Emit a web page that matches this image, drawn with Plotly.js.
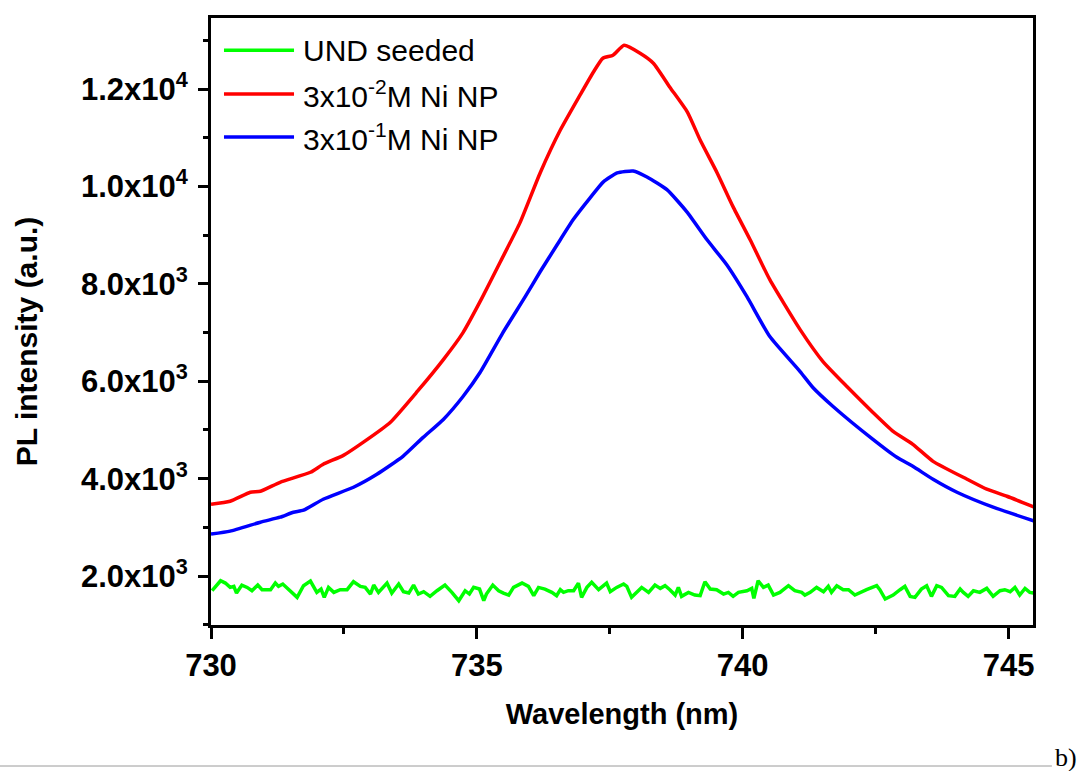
<!DOCTYPE html>
<html>
<head>
<meta charset="utf-8">
<script src="https://cdn.plot.ly/plotly-3.0.1.min.js"></script>
<style>html,body{margin:0;padding:0;background:#fff;}#chart{width:1083px;height:771px;}</style>
</head>
<body>
<div id="chart"></div>
<script>
// Wavelength (nm) / PL intensity (a.u.)
const redX = [730.0, 730.36, 730.74, 730.93, 731.30, 731.87, 732.11, 732.49, 732.86, 733.37, 733.88, 734.37, 734.74, 735.10, 735.44, 735.81, 736.19, 736.57, 736.94, 737.19, 737.37, 737.56, 737.77, 738.07, 738.32, 738.63, 738.96, 739.20, 739.52, 739.82, 740.14, 740.51, 741.08, 741.51, 741.96, 742.45, 742.83, 743.20, 743.58, 744.22, 744.59, 744.97, 745.49];
const redY = [3475, 3537, 3721, 3742, 3926, 4131, 4295, 4479, 4746, 5155, 5791, 6446, 7000, 7717, 8450, 9253, 10278, 11159, 11876, 12347, 12634, 12696, 12900, 12737, 12532, 12040, 11528, 10954, 10278, 9581, 8905, 8086, 7061, 6405, 5893, 5360, 4971, 4705, 4356, 3988, 3783, 3639, 3414];

const blueX = [730.0, 730.36, 730.93, 731.30, 731.55, 731.74, 732.11, 732.68, 733.12, 733.61, 733.99, 734.37, 734.74, 735.06, 735.48, 735.91, 736.19, 736.51, 736.81, 737.13, 737.38, 737.64, 737.94, 738.20, 738.58, 738.95, 739.33, 739.70, 740.08, 740.51, 741.08, 741.32, 741.70, 742.45, 742.90, 743.20, 743.58, 744.03, 744.71, 745.49];
const blueY = [2861, 2922, 3106, 3209, 3311, 3352, 3578, 3824, 4090, 4459, 4848, 5217, 5688, 6180, 6980, 7737, 8249, 8803, 9315, 9766, 10094, 10278, 10319, 10196, 9930, 9479, 8905, 8393, 7737, 6918, 6200, 5873, 5483, 4807, 4438, 4254, 3988, 3721, 3414, 3127];

const greenX = [730.02, 730.18, 730.27, 730.36, 730.43, 730.48, 730.58, 730.68, 730.77, 730.88, 730.96, 731.12, 731.21, 731.27, 731.35, 731.48, 731.62, 731.74, 731.87, 731.99, 732.07, 732.13, 732.21, 732.31, 732.43, 732.56, 732.68, 732.81, 732.90, 733.00, 733.06, 733.15, 733.31, 733.40, 733.53, 733.62, 733.72, 733.81, 733.90, 734.00, 734.12, 734.25, 734.40, 734.53, 734.66, 734.78, 734.86, 734.94, 735.05, 735.13, 735.18, 735.30, 735.41, 735.50, 735.60, 735.69, 735.85, 735.97, 736.07, 736.16, 736.28, 736.41, 736.50, 736.57, 736.63, 736.72, 736.82, 736.91, 736.97, 737.07, 737.16, 737.29, 737.44, 737.51, 737.63, 737.76, 737.82, 737.91, 738.01, 738.10, 738.23, 738.35, 738.45, 738.54, 738.63, 738.73, 738.79, 738.85, 738.98, 739.10, 739.20, 739.29, 739.39, 739.51, 739.64, 739.73, 739.82, 739.92, 740.08, 740.17, 740.21, 740.29, 740.39, 740.48, 740.58, 740.70, 740.86, 740.98, 741.11, 741.17, 741.27, 741.39, 741.52, 741.61, 741.67, 741.77, 741.89, 741.99, 742.11, 742.21, 742.33, 742.52, 742.58, 742.68, 742.83, 742.96, 743.05, 743.15, 743.24, 743.36, 743.46, 743.55, 743.65, 743.74, 743.87, 743.99, 744.09, 744.15, 744.24, 744.34, 744.46, 744.59, 744.71, 744.84, 744.93, 745.03, 745.12, 745.21, 745.31, 745.40, 745.48];
const greenY = [1699, 1904, 1856, 1767, 1788, 1651, 1815, 1767, 1699, 1815, 1720, 1720, 1856, 1788, 1836, 1699, 1563, 1802, 1897, 1665, 1733, 1563, 1767, 1665, 1720, 1720, 1884, 1788, 1767, 1631, 1815, 1665, 1856, 1651, 1836, 1679, 1651, 1815, 1631, 1679, 1583, 1699, 1815, 1665, 1494, 1699, 1631, 1767, 1733, 1494, 1631, 1815, 1699, 1651, 1610, 1767, 1856, 1788, 1597, 1767, 1733, 1665, 1597, 1720, 1665, 1699, 1699, 1856, 1563, 1767, 1870, 1720, 1856, 1679, 1767, 1836, 1788, 1563, 1665, 1767, 1665, 1815, 1747, 1802, 1720, 1610, 1767, 1583, 1665, 1610, 1597, 1884, 1733, 1720, 1631, 1665, 1583, 1665, 1699, 1747, 1542, 1904, 1767, 1815, 1610, 1665, 1802, 1699, 1665, 1610, 1665, 1767, 1679, 1788, 1665, 1802, 1720, 1720, 1610, 1665, 1720, 1802, 1720, 1528, 1610, 1720, 1788, 1583, 1563, 1733, 1802, 1583, 1802, 1767, 1597, 1583, 1733, 1665, 1583, 1699, 1665, 1747, 1583, 1699, 1720, 1679, 1767, 1610, 1747, 1665, 1651];

const seriesNames = ['UND seeded', '3x10<sup>-2</sup>M Ni NP', '3x10<sup>-1</sup>M Ni NP'];
const seriesColors = ['#00ff00', '#ff0000', '#0000ff'];

const yTickVals = [2000, 4000, 6000, 8000, 10000, 12000];
const yTickText = ['2.0x10<sup>3</sup>', '4.0x10<sup>3</sup>', '6.0x10<sup>3</sup>', '8.0x10<sup>3</sup>', '1.0x10<sup>4</sup>', '1.2x10<sup>4</sup>'];
const yMinorVals = [1000, 3000, 5000, 7000, 9000, 11000, 13000];
const xTickVals = [730, 735, 740, 745];
const xMinorVals = [732.5, 737.5, 742.5];

const traces = [
  {x: greenX, y: greenY, name: seriesNames[0], line: {color: seriesColors[0], width: 3.5}},
  {x: redX, y: redY, name: seriesNames[1], line: {color: seriesColors[1], width: 3.5, shape: 'spline', smoothing: 0.5}},
  {x: blueX, y: blueY, name: seriesNames[2], line: {color: seriesColors[2], width: 3.5, shape: 'spline', smoothing: 0.5}}
].map(t => Object.assign({type: 'scatter', mode: 'lines', showlegend: false, hoverinfo: 'skip'}, t));

const tickFont = {family: 'Liberation Sans, Arial, sans-serif', size: 31, color: '#000', weight: 'bold'};
const titleFont = {family: 'Liberation Sans, Arial, sans-serif', size: 29, color: '#000', weight: 'bold'};

// manual legend (line samples + labels)
const legRows = [0.947, 0.875, 0.804];
const shapes = legRows.map((yy, i) => ({type: 'line', xref: 'paper', yref: 'paper', x0: 0.0158, x1: 0.101, y0: yy, y1: yy, line: {color: seriesColors[i], width: 3.5}}));
shapes.push({type: 'line', xref: 'paper', yref: 'paper', x0: -0.2567, x1: 1.023, y0: -0.2323, y1: -0.2323, line: {color: '#9a9a9a', width: 1}});
const annotations = legRows.map((yy, i) => ({xref: 'paper', yref: 'paper', x: 0.1095, y: yy, xanchor: 'left', yanchor: 'middle', text: seriesNames[i], showarrow: false, font: {family: 'Liberation Sans, Arial, sans-serif', size: 30, color: '#000'}}));
annotations.push({xref: 'paper', yref: 'paper', x: 1.04, y: -0.2175, xanchor: 'center', yanchor: 'middle', text: 'b)', showarrow: false, font: {family: 'Liberation Serif, Times New Roman, serif', size: 26, color: '#000'}});
// y-axis title (placed as in the original figure, slightly below the axis centre)
annotations.push({xref: 'paper', yref: 'paper', x: -0.225, y: 0.466, xanchor: 'center', yanchor: 'middle', textangle: -90, text: 'PL intensity (a.u.)', showarrow: false, font: {family: 'Liberation Sans, Arial, sans-serif', size: 30, color: '#000', weight: 'bold'}});

const layout = {
  width: 1083, height: 771,
  margin: {l: 211, r: 50, t: 18, b: 146, pad: 0},
  paper_bgcolor: '#fff', plot_bgcolor: '#fff',
  showlegend: false,
  xaxis: {
    range: [730, 745.46], showgrid: false, zeroline: false,
    showline: true, mirror: true, linecolor: '#000', linewidth: 3,
    tickmode: 'array', tickvals: xTickVals, ticktext: xTickVals.map(String),
    ticks: 'outside', ticklen: 11, tickwidth: 3, tickcolor: '#000',
    minor: {tickmode: 'array', tickvals: xMinorVals, ticks: 'outside', ticklen: 6, tickwidth: 3, tickcolor: '#000'},
    tickfont: tickFont, ticklabelstandoff: 0,
    title: {text: 'Wavelength (nm)', font: titleFont, standoff: 22}
  },
  yaxis: {
    range: [995, 13460], showgrid: false, zeroline: false,
    showline: true, mirror: true, linecolor: '#000', linewidth: 3,
    tickmode: 'array', tickvals: yTickVals, ticktext: yTickText,
    ticks: 'outside', ticklen: 10, tickwidth: 3, tickcolor: '#000',
    minor: {tickmode: 'array', tickvals: yMinorVals, ticks: 'outside', ticklen: 5, tickwidth: 3, tickcolor: '#000'},
    tickfont: tickFont, ticklabelstandoff: 4
  },
  shapes: shapes,
  annotations: annotations
};

Plotly.newPlot('chart', traces, layout, {displayModeBar: false, staticPlot: true});
</script>
</body>
</html>
